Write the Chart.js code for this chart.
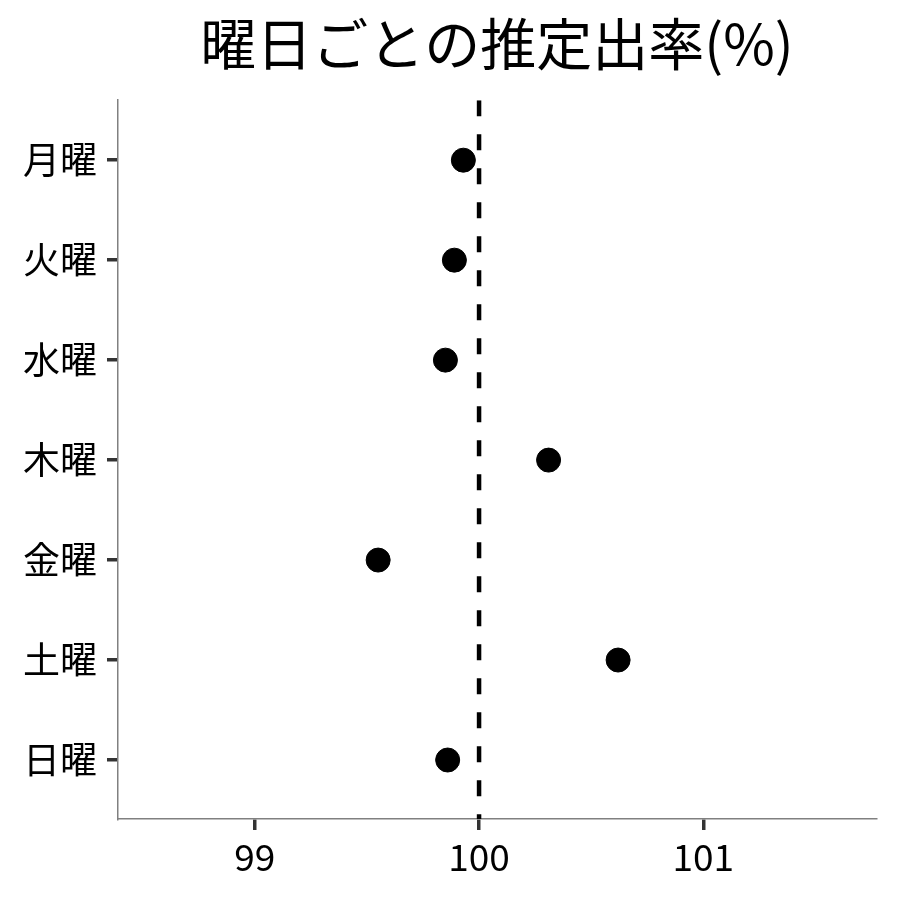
<!DOCTYPE html>
<html>
<head>
<meta charset="utf-8">
<script src="https://cdn.jsdelivr.net/npm/chart.js@4"></script>
<style>
    body { margin: 0; background: #ffffff; }
</style>
</head>
<body>
<canvas id="dotChart" width="900" height="900"></canvas>
<script>
// 曜日と推定値
let days = ['月曜', '火曜', '水曜', '木曜', '金曜', '土曜', '日曜'];
let rates = [99.93, 99.89, 99.85, 100.31, 99.55, 100.62, 99.86];
let xTicks = [99, 100, 101];
let refLine = 100;

let fontFamily = "'Noto Sans CJK JP', 'Noto Sans', sans-serif";

let points = days.map((d, i) => ({ x: rates[i], y: i + 1 }));

var ctx = document.getElementById('dotChart').getContext('2d');

var dotChart = new Chart(ctx, {
    type: 'scatter',
    data: {
        datasets: [{
            label: '推定出率',
            data: points,
            backgroundColor: '#000000',
            borderColor: '#000000',
            pointRadius: 12,
            pointHoverRadius: 12,
            order: 1
        }, {
            label: '100',
            data: [{ x: refLine, y: 0.4 }, { x: refLine, y: 7.7 }],
            showLine: true,
            borderColor: '#000000',
            borderWidth: 4.5,
            borderDash: [16, 18],
            pointRadius: 0,
            order: 2
        }]
    },
    options: {
        responsive: false,
        animation: false,
        layout: {
            padding: { left: 0, right: 24, top: 0, bottom: 0 }
        },
        plugins: {
            legend: { display: false },
            tooltip: { enabled: false },
            title: {
                display: true,
                text: '曜日ごとの推定出率(%)',
                fullSize: false,
                color: '#000000',
                font: { family: fontFamily, size: 56, weight: 'normal', lineHeight: 1.2 },
                padding: { top: 10, bottom: 23 }
            }
        },
        scales: {
            x: {
                type: 'linear',
                min: 98.39,
                max: 101.77,
                afterBuildTicks: scale => {
                    scale.ticks = xTicks.map(v => ({ value: v }));
                },
                afterFit: scale => {
                    scale.height = 81;
                },
                grid: {
                    drawOnChartArea: false,
                    drawTicks: true,
                    tickLength: 11,
                    tickColor: '#333333',
                    tickWidth: 3.5,
                    lineWidth: 3.5
                },
                border: { display: true, color: '#808080', width: 1.5 },
                ticks: {
                    color: '#000000',
                    padding: 5,
                    font: { family: fontFamily, size: 37 }
                }
            },
            y: {
                type: 'linear',
                reverse: true,
                min: 0.4,
                max: 7.59,
                afterBuildTicks: scale => {
                    scale.ticks = days.map((d, i) => ({ value: i + 1 }));
                },
                afterFit: scale => {
                    scale.width = 118;
                },
                grid: {
                    drawOnChartArea: false,
                    drawTicks: true,
                    tickLength: 11,
                    tickColor: '#333333',
                    tickWidth: 3.5,
                    lineWidth: 3.5
                },
                border: { display: true, color: '#808080', width: 1.5 },
                ticks: {
                    color: '#000000',
                    padding: 10,
                    font: { family: fontFamily, size: 37 },
                    callback: value => days[value - 1]
                }
            }
        }
    }
});
</script>
</body>
</html>
